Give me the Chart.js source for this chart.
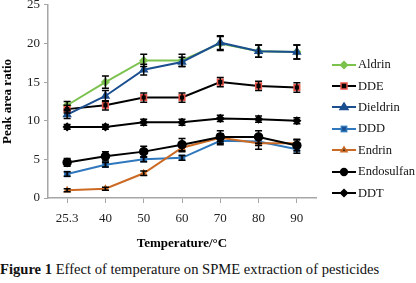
<!DOCTYPE html>
<html>
<head>
<meta charset="utf-8">
<script src="https://cdn.jsdelivr.net/npm/chart.js@4"></script>
<style>
  body { margin: 0; background: #fff; width: 416px; height: 283px; position: relative; overflow: hidden; }
  #wrap { position: absolute; left: 0; top: -7px; width: 416px; height: 262px; }
  #legend { position: absolute; left: 332px; top: 54px; font: 12.5px "Liberation Serif", "Times New Roman", Times, "DejaVu Serif", serif; color: #111; }
  #legend div { height: 21.4px; display: flex; align-items: center; white-space: nowrap; }
  #legend svg { margin-right: 2px; }
  #caption { position: absolute; left: 0; top: 261px; font: 14.6px "Liberation Serif", "Times New Roman", Times, "DejaVu Serif", serif; color: #111; white-space: nowrap; }
</style>
</head>
<body>
<div id="wrap"><canvas id="chart"></canvas></div>
<div id="legend"></div>
<div id="caption"><b>Figure 1</b> Effect of temperature on SPME extraction of pesticides</div>
<script>
const temperatures = ["25.3", "40", "50", "60", "70", "80", "90"];

const aldrin = [12.0, 15.0, 17.8, 17.8, 20.0, 19.0, 18.9];
const dde = [11.5, 12.0, 13.0, 13.0, 15.0, 14.5, 14.3];
const dieldrin = [10.8, 13.2, 16.6, 17.6, 20.1, 19.0, 18.9];
const ddd = [3.1, 4.3, 5.0, 5.2, 7.4, 7.3, 6.3];
const endrin = [1.0, 1.2, 3.2, 6.5, 7.8, 7.1, 7.1];
const endosulfan = [4.6, 5.4, 6.0, 6.9, 7.9, 7.9, 6.8];
const ddt = [9.2, 9.2, 9.8, 9.8, 10.3, 10.2, 10.0];

const aldrinErr = [0.5, 0.8, 0.8, 0.8, 0.9, 0.8, 0.9];
const ddeErr = [0.5, 0.6, 0.6, 0.6, 0.6, 0.6, 0.6];
const dieldrinErr = [0.5, 0.7, 0.7, 0.6, 0.9, 0.8, 0.9];
const dddErr = [0.3, 0.3, 0.3, 0.3, 0.5, 0.5, 0.5];
const endrinErr = [0.2, 0.2, 0.3, 0.5, 0.5, 0.8, 0.5];
const endosulfanErr = [0.5, 0.6, 0.7, 0.8, 0.8, 0.8, 0.7];
const ddtErr = [0.3, 0.3, 0.4, 0.4, 0.4, 0.4, 0.4];

const serif = "'Liberation Serif', 'Times New Roman', Times, 'DejaVu Serif', serif";

function series(label, data, errs, line, fill, border, style, radius) {
  return {
    label: label,
    data: data,
    errs: errs,
    borderColor: line,
    borderWidth: 2,
    pointBackgroundColor: fill,
    pointBorderColor: border,
    pointBorderWidth: 1.5,
    pointStyle: style,
    pointRadius: radius,
    tension: 0,
  };
}

const datasets = [
  series("Aldrin", aldrin, aldrinErr, "#7cc24e", "#7cc24e", "#7cc24e", "rectRot", 3.5),
  series("DDE", dde, ddeErr, "#000000", "#000000", "#e8534a", "rect", 4),
  series("Dieldrin", dieldrin, dieldrinErr, "#1b4f8f", "#1b4f8f", "#1b4f8f", "triangle", 4),
  series("DDD", ddd, dddErr, "#2f78bd", "#1b4f8f", "#2f78bd", "rect", 3.5),
  series("Endrin", endrin, endrinErr, "#cc6a24", "#553322", "#cc6a24", "triangle", 3),
  series("Endosulfan", endosulfan, endosulfanErr, "#000000", "#000000", "#000000", "circle", 4),
  series("DDT", ddt, ddtErr, "#000000", "#000000", "#000000", "rectRot", 3.5),
];
datasets.forEach((d, i) => { d.order = datasets.length - i; });

//Error bars drawn through the y scale
const errorBars = {
  id: "errorBars",
  afterDatasetsDraw(chart) {
    const ctx = chart.ctx;
    const y = chart.scales.y;
    ctx.save();
    ctx.strokeStyle = "#000";
    ctx.lineWidth = 1.5;
    chart.data.datasets.forEach((ds, i) => {
      const meta = chart.getDatasetMeta(i);
      meta.data.forEach((pt, j) => {
        const e = ds.errs[j];
        const top = y.getPixelForValue(ds.data[j] + e);
        const bot = y.getPixelForValue(ds.data[j] - e);
        ctx.beginPath();
        ctx.moveTo(pt.x, top);
        ctx.lineTo(pt.x, bot);
        ctx.moveTo(pt.x - 3.5, top);
        ctx.lineTo(pt.x + 3.5, top);
        ctx.moveTo(pt.x - 3.5, bot);
        ctx.lineTo(pt.x + 3.5, bot);
        ctx.stroke();
      });
    });
    ctx.restore();
  },
};

const chart = new Chart(document.getElementById("chart"), {
  type: "line",
  data: { labels: temperatures, datasets: datasets },
  plugins: [errorBars],
  options: {
    responsive: true,
    maintainAspectRatio: false,
    animation: false,
    layout: { padding: { top: 5, right: 100, left: 0, bottom: 0 } },
    plugins: { legend: { display: false }, tooltip: { enabled: false } },
    scales: {
      x: {
        offset: true,
        afterFit: (s) => { s.height = 57; },
        grid: { offset: false, drawOnChartArea: false, color: "#a6a6a6", tickLength: 5 },
        border: { color: "#a6a6a6", width: 1.5 },
        ticks: { color: "#222", padding: 8, font: { family: serif, size: 13 } },
        title: { display: true, text: "Temperature/°C", color: "#000", padding: { top: 12 }, font: { family: serif, size: 13, weight: "bold" } },
      },
      y: {
        min: 0,
        max: 25,
        afterFit: (s) => { s.width = 48; },
        grid: { drawOnChartArea: false, color: "#a6a6a6", tickLength: 4 },
        border: { color: "#a6a6a6", width: 1.5 },
        ticks: { stepSize: 5, color: "#222", padding: 4, font: { family: serif, size: 13 } },
        title: { display: true, text: "Peak area ratio", color: "#000", padding: 0, font: { family: serif, size: 13, weight: "bold" } },
      },
    },
  },
});

//HTML legend with line + marker samples
const legendBox = document.getElementById("legend");
datasets.forEach((d) => {
  const r = d.pointRadius;
  let mark = "";
  const a = `fill="${d.pointBackgroundColor}" stroke="${d.pointBorderColor}" stroke-width="1.5"`;
  if (d.pointStyle === "rect") mark = `<rect x="${12 - r * 0.75}" y="${5 - r * 0.75}" width="${r * 1.5}" height="${r * 1.5}" ${a}/>`;
  else if (d.pointStyle === "rectRot") mark = `<polygon points="12,${5 - r} ${12 + r},5 12,${5 + r} ${12 - r},5" ${a}/>`;
  else if (d.pointStyle === "triangle") mark = `<polygon points="12,${5 - r} ${12 + r},${5 + r * 0.6} ${12 - r},${5 + r * 0.6}" ${a}/>`;
  else mark = `<circle cx="12" cy="5" r="${r * 0.85}" ${a}/>`;
  const row = document.createElement("div");
  row.innerHTML = `<svg width="24" height="10"><line x1="0" y1="5" x2="24" y2="5" stroke="${d.borderColor}" stroke-width="2"/>${mark}</svg><span>${d.label}</span>`;
  legendBox.appendChild(row);
});
</script>
</body>
</html>
